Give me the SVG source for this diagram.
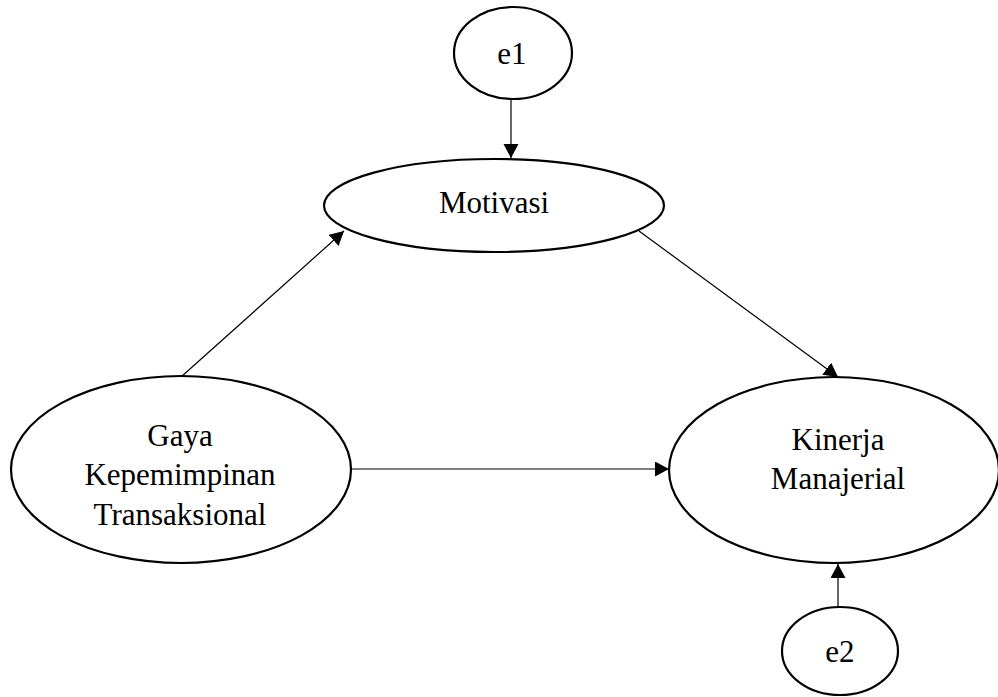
<svg xmlns="http://www.w3.org/2000/svg" width="998" height="697" viewBox="0 0 998 697">
<style>
.node ellipse{fill:#fff;stroke:#000;stroke-width:2.2}
.node text{font-family:"Liberation Serif","Times New Roman",serif;font-size:31px;fill:#000;text-anchor:middle}
.conn line{stroke:#000;stroke-width:1.2;fill:none}
</style>
<defs>
<marker id="ah" markerUnits="userSpaceOnUse" markerWidth="15" markerHeight="16" refX="14" refY="7.5" orient="auto">
<path d="M0,0 L14,7.5 L0,15 z" fill="#000"/>
</marker>
</defs>
<rect width="998" height="697" fill="#fff"/>
<g id="connectors" class="conn">
<line x1="511" y1="99" x2="511" y2="158" marker-end="url(#ah)"/>
<line x1="181" y1="377" x2="344" y2="231" marker-end="url(#ah)"/>
<line x1="639" y1="231" x2="838" y2="377" marker-end="url(#ah)"/>
<line x1="343" y1="469" x2="669" y2="469" marker-end="url(#ah)"/>
<line x1="838" y1="607" x2="838" y2="564" marker-end="url(#ah)"/>
</g>
<g id="e1" class="node">
<ellipse cx="513" cy="53" rx="59" ry="46"/>
<text x="512" y="64">e1</text>
</g>
<g id="motivasi" class="node">
<ellipse cx="494" cy="205.5" rx="170" ry="46.5"/>
<text x="494" y="213">Motivasi</text>
</g>
<g id="gaya" class="node">
<ellipse cx="181" cy="469.5" rx="170" ry="93.5"/>
<text x="180" y="446">Gaya</text>
<text x="180" y="485">Kepemimpinan</text>
<text x="180" y="525">Transaksional</text>
</g>
<g id="kinerja" class="node">
<ellipse cx="834" cy="470" rx="165" ry="93"/>
<text x="838" y="450">Kinerja</text>
<text x="838" y="489">Manajerial</text>
</g>
<g id="e2" class="node">
<ellipse cx="840" cy="651" rx="58" ry="44"/>
<text x="840" y="662">e2</text>
</g>
</svg>
